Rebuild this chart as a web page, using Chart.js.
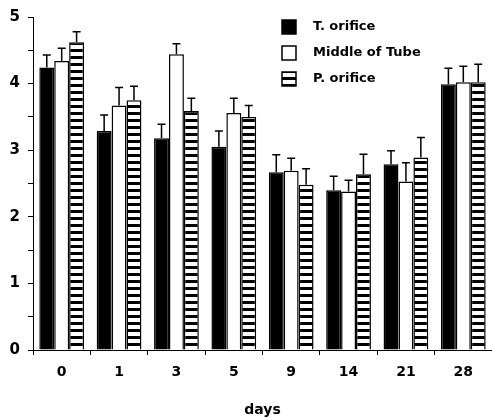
<!DOCTYPE html>
<html>
<head>
<meta charset="utf-8">
<script src="https://cdn.jsdelivr.net/npm/chart.js@4"></script>
<style>
  html, body { margin: 0; padding: 0; background: #fff; }
  #wrap { width: 492px; height: 419px; }
</style>
</head>
<body>
<div id="wrap"><canvas id="myChart" width="492" height="419"></canvas></div>
<script>
// data
const days = ["0", "1", "3", "5", "9", "14", "21", "28"];
const seriesNames = ["T. orifice", "Middle of Tube", "P. orifice"];

const tOrifice = [4.24, 3.29, 3.18, 3.05, 2.67, 2.40, 2.79, 3.99];
const tOrificeErr = [0.19, 0.24, 0.21, 0.24, 0.26, 0.21, 0.20, 0.24];

const middle = [4.34, 3.67, 4.44, 3.56, 2.69, 2.38, 2.53, 4.02];
const middleErr = [0.19, 0.27, 0.16, 0.22, 0.19, 0.17, 0.28, 0.24];

const pOrifice = [4.62, 3.75, 3.59, 3.50, 2.48, 2.64, 2.89, 4.02];
const pOrificeErr = [0.16, 0.21, 0.19, 0.17, 0.24, 0.30, 0.30, 0.27];

const yTicks = [0, 1, 2, 3, 4, 5];

// stripe pattern for P. orifice
const pc = document.createElement("canvas");
pc.width = 6;
pc.height = 7;
const pctx = pc.getContext("2d");
pctx.fillStyle = "#fff";
pctx.fillRect(0, 0, 6, 7);
pctx.fillStyle = "#000";
pctx.fillRect(0, 0, 6, 3);
const stripes = pctx.createPattern(pc, "repeat");

const FONT = "'DejaVu Sans', sans-serif";

// error bars drawn on top of each bar
const errorBars = {
  id: "errorBars",
  afterDatasetsDraw(chart) {
    const ctx = chart.ctx;
    const y = chart.scales.y;
    ctx.save();
    ctx.strokeStyle = "#000";
    ctx.lineWidth = 1.5;
    chart.data.datasets.forEach((ds, di) => {
      const meta = chart.getDatasetMeta(di);
      meta.data.forEach((bar, i) => {
        const top = y.getPixelForValue(ds.data[i] + ds.errors[i]);
        ctx.beginPath();
        ctx.moveTo(bar.x, bar.y);
        ctx.lineTo(bar.x, top);
        ctx.moveTo(bar.x - 4, top);
        ctx.lineTo(bar.x + 4, top);
        ctx.stroke();
      });
    });
    ctx.restore();
  },
};

// legend in the top right of the plot
const boxLegend = {
  id: "boxLegend",
  afterDraw(chart) {
    const ctx = chart.ctx;
    ctx.save();
    ctx.font = "bold 13px " + FONT;
    ctx.textBaseline = "middle";
    chart.data.datasets.forEach((ds, i) => {
      const cy = 27 + i * 26;
      ctx.fillStyle = ds.backgroundColor;
      ctx.fillRect(282, cy - 7, 14, 14);
      ctx.strokeStyle = "#000";
      ctx.lineWidth = 1.5;
      ctx.strokeRect(282, cy - 7, 14, 14);
      ctx.fillStyle = "#000";
      ctx.fillText(ds.label, 313, cy);
    });
    ctx.restore();
  },
};

const data = {
  labels: days,
  datasets: [
    {
      label: seriesNames[0],
      data: tOrifice,
      errors: tOrificeErr,
      backgroundColor: "#000",
      borderColor: "#000",
      borderWidth: 1.5,
    },
    {
      label: seriesNames[1],
      data: middle,
      errors: middleErr,
      backgroundColor: "#fff",
      borderColor: "#000",
      borderWidth: 1.5,
    },
    {
      label: seriesNames[2],
      data: pOrifice,
      errors: pOrificeErr,
      backgroundColor: stripes,
      borderColor: "#000",
      borderWidth: 1.5,
    },
  ],
};

const config = {
  type: "bar",
  data: data,
  options: {
    responsive: false,
    animation: false,
    layout: { padding: { top: 16, right: 0, left: 0, bottom: 0 } },
    datasets: {
      bar: { categoryPercentage: 0.78, barPercentage: 1.0 },
    },
    scales: {
      x: {
        afterFit(scale) { scale.height = 69; },
        grid: {
          drawOnChartArea: false,
          offset: true,
          tickLength: 5,
          color: "#000",
          lineWidth: 1,
        },
        border: { color: "#000", width: 1 },
        ticks: {
          color: "#000",
          padding: 9,
          font: { family: FONT, weight: "bold", size: 14 },
        },
        title: {
          display: true,
          text: "days",
          color: "#000",
          padding: { top: 16, bottom: 0 },
          font: { family: FONT, weight: "bold", size: 14 },
        },
      },
      y: {
        min: 0,
        max: 5,
        afterFit(scale) { scale.width = 33; },
        grid: {
          drawOnChartArea: false,
          tickLength: 5,
          color: "#000",
          lineWidth: 1,
        },
        border: { color: "#000", width: 1 },
        ticks: {
          stepSize: 0.5,
          color: "#000",
          padding: 8,
          font: { family: FONT, weight: "bold", size: 15 },
          callback: (v) => (yTicks.includes(v) ? v : ""),
        },
      },
    },
    plugins: {
      legend: { display: false },
      tooltip: { enabled: false },
    },
  },
  plugins: [errorBars, boxLegend],
};

const myChart = new Chart(document.getElementById("myChart"), config);
</script>
</body>
</html>
